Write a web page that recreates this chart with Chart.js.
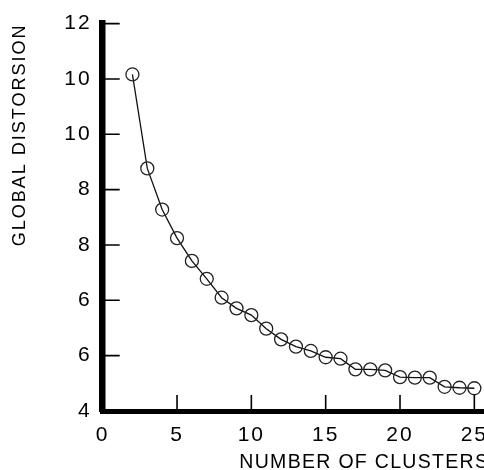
<!DOCTYPE html>
<html>
<head>
<meta charset="utf-8">
<script src="https://cdn.jsdelivr.net/npm/chart.js@4.4.0/dist/chart.umd.min.js"></script>
<style>
    html, body { margin: 0; padding: 0; background: #fff; overflow: hidden; }
    canvas { display: block; }
</style>
</head>
<body>
<canvas id="distortion-chart" width="497" height="470"></canvas>
<script>
// Nombre de clusters / distorsion globale
const clusters = [2, 3, 4, 5, 6, 7, 8, 9, 10, 11, 12, 13, 14, 15, 16, 17, 18, 19, 20, 21, 22, 23, 24, 25];
const distortion = [10.95, 9.01, 8.16, 7.57, 7.10, 6.73, 6.34, 6.12, 5.98, 5.70, 5.48, 5.33,
                    5.24, 5.11, 5.08, 4.86, 4.86, 4.84, 4.70, 4.69, 4.69, 4.50, 4.48, 4.47];

// Graduations telles qu'imprimées sur la figure
const xTickValues = [0, 5, 10, 15, 20, 25];
const yTickValues = [4, 5.143, 6.286, 7.429, 8.571, 9.714, 10.857, 12];
const yTickLabels = ['4', '6', '6', '8', '8', '10', '10', '12'];

const ink = '#000';
const fontFamily = '"Liberation Sans", Arial, Helvetica, sans-serif';

// Espacement des lettres par axe (graduations / titre)
const spacing = {
    x: { labels: '2px', title: '1.3px' },
    y: { labels: '2px', title: '2px' },
};

/**
 * Applique l'espacement des lettres aux textes des axes
 */
const letterSpacing = {
    id: 'letterSpacing',
    beforeDraw(chart) {
        const ctx = chart.ctx;
        Object.values(chart.scales).forEach((scale) => {
            if (scale._spacingPatched || !spacing[scale.id]) return;
            const cfg = spacing[scale.id];
            const drawLabels = scale.drawLabels;
            const drawTitle = scale.drawTitle;
            scale.drawLabels = function (area) {
                ctx.save();
                ctx.letterSpacing = cfg.labels;
                drawLabels.call(this, area);
                ctx.restore();
            };
            scale.drawTitle = function (area) {
                ctx.save();
                ctx.letterSpacing = cfg.title;
                drawTitle.call(this, area);
                ctx.restore();
            };
            scale._spacingPatched = true;
        });
    }
};

/**
 * Petites graduations tournées vers l'intérieur du graphique
 */
const inwardTicks = {
    id: 'inwardTicks',
    afterDraw(chart) {
        const ctx = chart.ctx;
        const area = chart.chartArea;
        const xs = chart.scales.x;
        const ys = chart.scales.y;
        ctx.save();
        ctx.strokeStyle = ink;
        ctx.lineWidth = 1.6;
        ctx.beginPath();
        ys.ticks.forEach((t, i) => {
            const py = ys.getPixelForTick(i);
            ctx.moveTo(area.left, py);
            ctx.lineTo(area.left + 17, py);
        });
        xs.ticks.forEach((t, i) => {
            if (t.value === 0) return;
            const px = xs.getPixelForTick(i);
            ctx.moveTo(px, area.bottom);
            ctx.lineTo(px, area.bottom - 16);
        });
        ctx.stroke();
        ctx.restore();
    }
};

new Chart(document.getElementById('distortion-chart'), {
    type: 'line',
    data: {
        labels: clusters,
        datasets: [{
            data: clusters.map((c, i) => ({ x: c, y: distortion[i] })),
            borderColor: '#111',
            borderWidth: 1.3,
            pointRadius: 6.5,
            pointBorderWidth: 1.3,
            pointBorderColor: '#222',
            pointBackgroundColor: 'rgba(0,0,0,0)',
            tension: 0,
            fill: false,
        }]
    },
    options: {
        responsive: false,
        animation: false,
        devicePixelRatio: 1,
        layout: { padding: { left: 9.5, right: 0, top: 7, bottom: 0 } },
        plugins: {
            legend: { display: false },
            tooltip: { enabled: false },
        },
        scales: {
            x: {
                type: 'linear',
                min: 0,
                max: 26,
                afterBuildTicks: (scale) => {
                    scale.ticks = xTickValues.map(v => ({ value: v }));
                },
                afterFit: (scale) => {
                    scale.height = 59;
                    scale.paddingLeft = 0;
                    scale.paddingRight = 0;
                },
                grid: { display: false, drawTicks: false },
                border: { display: true, color: ink, width: 5 },
                ticks: {
                    color: ink,
                    padding: 12,
                    font: { family: fontFamily, size: 21 },
                    maxRotation: 0,
                },
                title: {
                    display: true,
                    align: 'end',
                    text: 'NUMBER OF CLUSTERS',
                    color: ink,
                    font: { family: fontFamily, size: 19.5, lineHeight: 0.8 },
                    padding: { top: 0, bottom: 0 },
                }
            },
            y: {
                min: 4,
                max: 12,
                afterBuildTicks: (scale) => {
                    scale.ticks = yTickValues.map(v => ({ value: v }));
                },
                afterFit: (scale) => { scale.width = 93.2; },
                grid: { display: false, drawTicks: false },
                border: { display: true, color: ink, width: 6.5 },
                ticks: {
                    color: ink,
                    padding: 11,
                    font: { family: fontFamily, size: 21 },
                    callback: (value, index) => yTickLabels[index],
                },
                title: {
                    display: true,
                    align: 'end',
                    text: 'GLOBAL DISTORSION',
                    color: ink,
                    font: { family: fontFamily, size: 18 },
                    padding: { top: 0, bottom: 0 },
                }
            }
        }
    },
    plugins: [letterSpacing, inwardTicks]
});
</script>
</body>
</html>
